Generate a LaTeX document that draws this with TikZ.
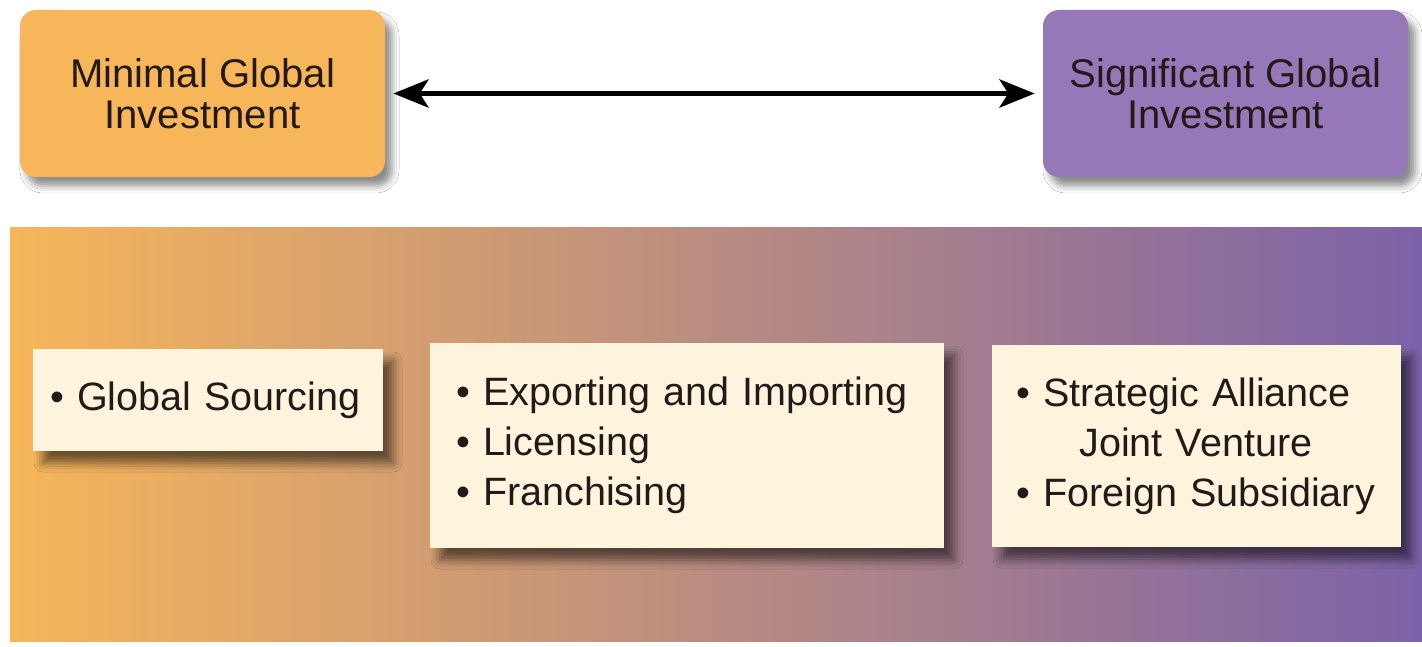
\documentclass[tikz,border=0pt]{standalone}
\usepackage{fontspec}
\setmainfont{Liberation Sans}
\usetikzlibrary{arrows.meta,shadows.blur}

\definecolor{minorange}{RGB}{247,182,90}
\definecolor{sigpurple}{RGB}{150,120,185}
\definecolor{bandmid}{RGB}{186,140,128}
\definecolor{bandright}{RGB}{124,98,168}
\definecolor{cream}{RGB}{253,244,221}
\definecolor{ink}{RGB}{35,25,25}

\tikzset{
	investbox/.style={rounded corners=0.32cm, minimum width=7.3cm, minimum height=3.34cm, align=center, text=ink,
		font=\fontsize{22.8}{23.5}\selectfont,
		blur shadow={shadow xshift=0.14cm, shadow yshift=-0.18cm, shadow blur radius=0.14cm, shadow opacity=45}},
	modebox/.style={fill=cream, align=left, text=ink, font=\fontsize{22.5}{28.5}\selectfont,
		blur shadow={shadow xshift=0.2cm, shadow yshift=-0.24cm, shadow blur radius=0.18cm, shadow opacity=55}},
	bigtip/.tip={Stealth[length=20pt,width=16pt,inset=5pt]}
}

\begin{document}
\begin{tikzpicture}
		\useasboundingbox[fill=white] (0,0) rectangle (28.44,12.92);
		
		\foreach \n/\x/\c/\t in {minimal/4.05/minorange/{Minimal Global\\Investment}, significant/24.51/sigpurple/{Significant Global\\Investment}}{
			\node[investbox, fill=\c] (\n) at (\x,11.05) {\t};
		}
		\draw[line width=3pt, bigtip-bigtip, shorten <=0.16cm, shorten >=0.16cm] (minimal.east) -- (significant.west);
		
		\shade[left color=minorange, middle color=bandmid, right color=bandright] (0.2,0.1) rectangle (28.44,8.38);
		
		\node[modebox, inner xsep=0.34cm, text width=6.32cm, minimum height=2.04cm] (sourcing) at (4.16,4.92) {\textbullet\ Global Sourcing};
		\node[modebox, inner xsep=0.52cm, text width=9.24cm, minimum height=4.1cm] (trade) at (13.74,4.01) {\textbullet\ Exporting and Importing\\\textbullet\ Licensing\\\textbullet\ Franchising};
		\node[modebox, inner xsep=0.48cm, text width=7.22cm, minimum height=4.04cm] (alliance) at (23.93,4.0) {\textbullet\ Strategic Alliance\\\hspace*{1.6em}Joint Venture\\\textbullet\ Foreign Subsidiary};
		\end{tikzpicture}
\end{document}
